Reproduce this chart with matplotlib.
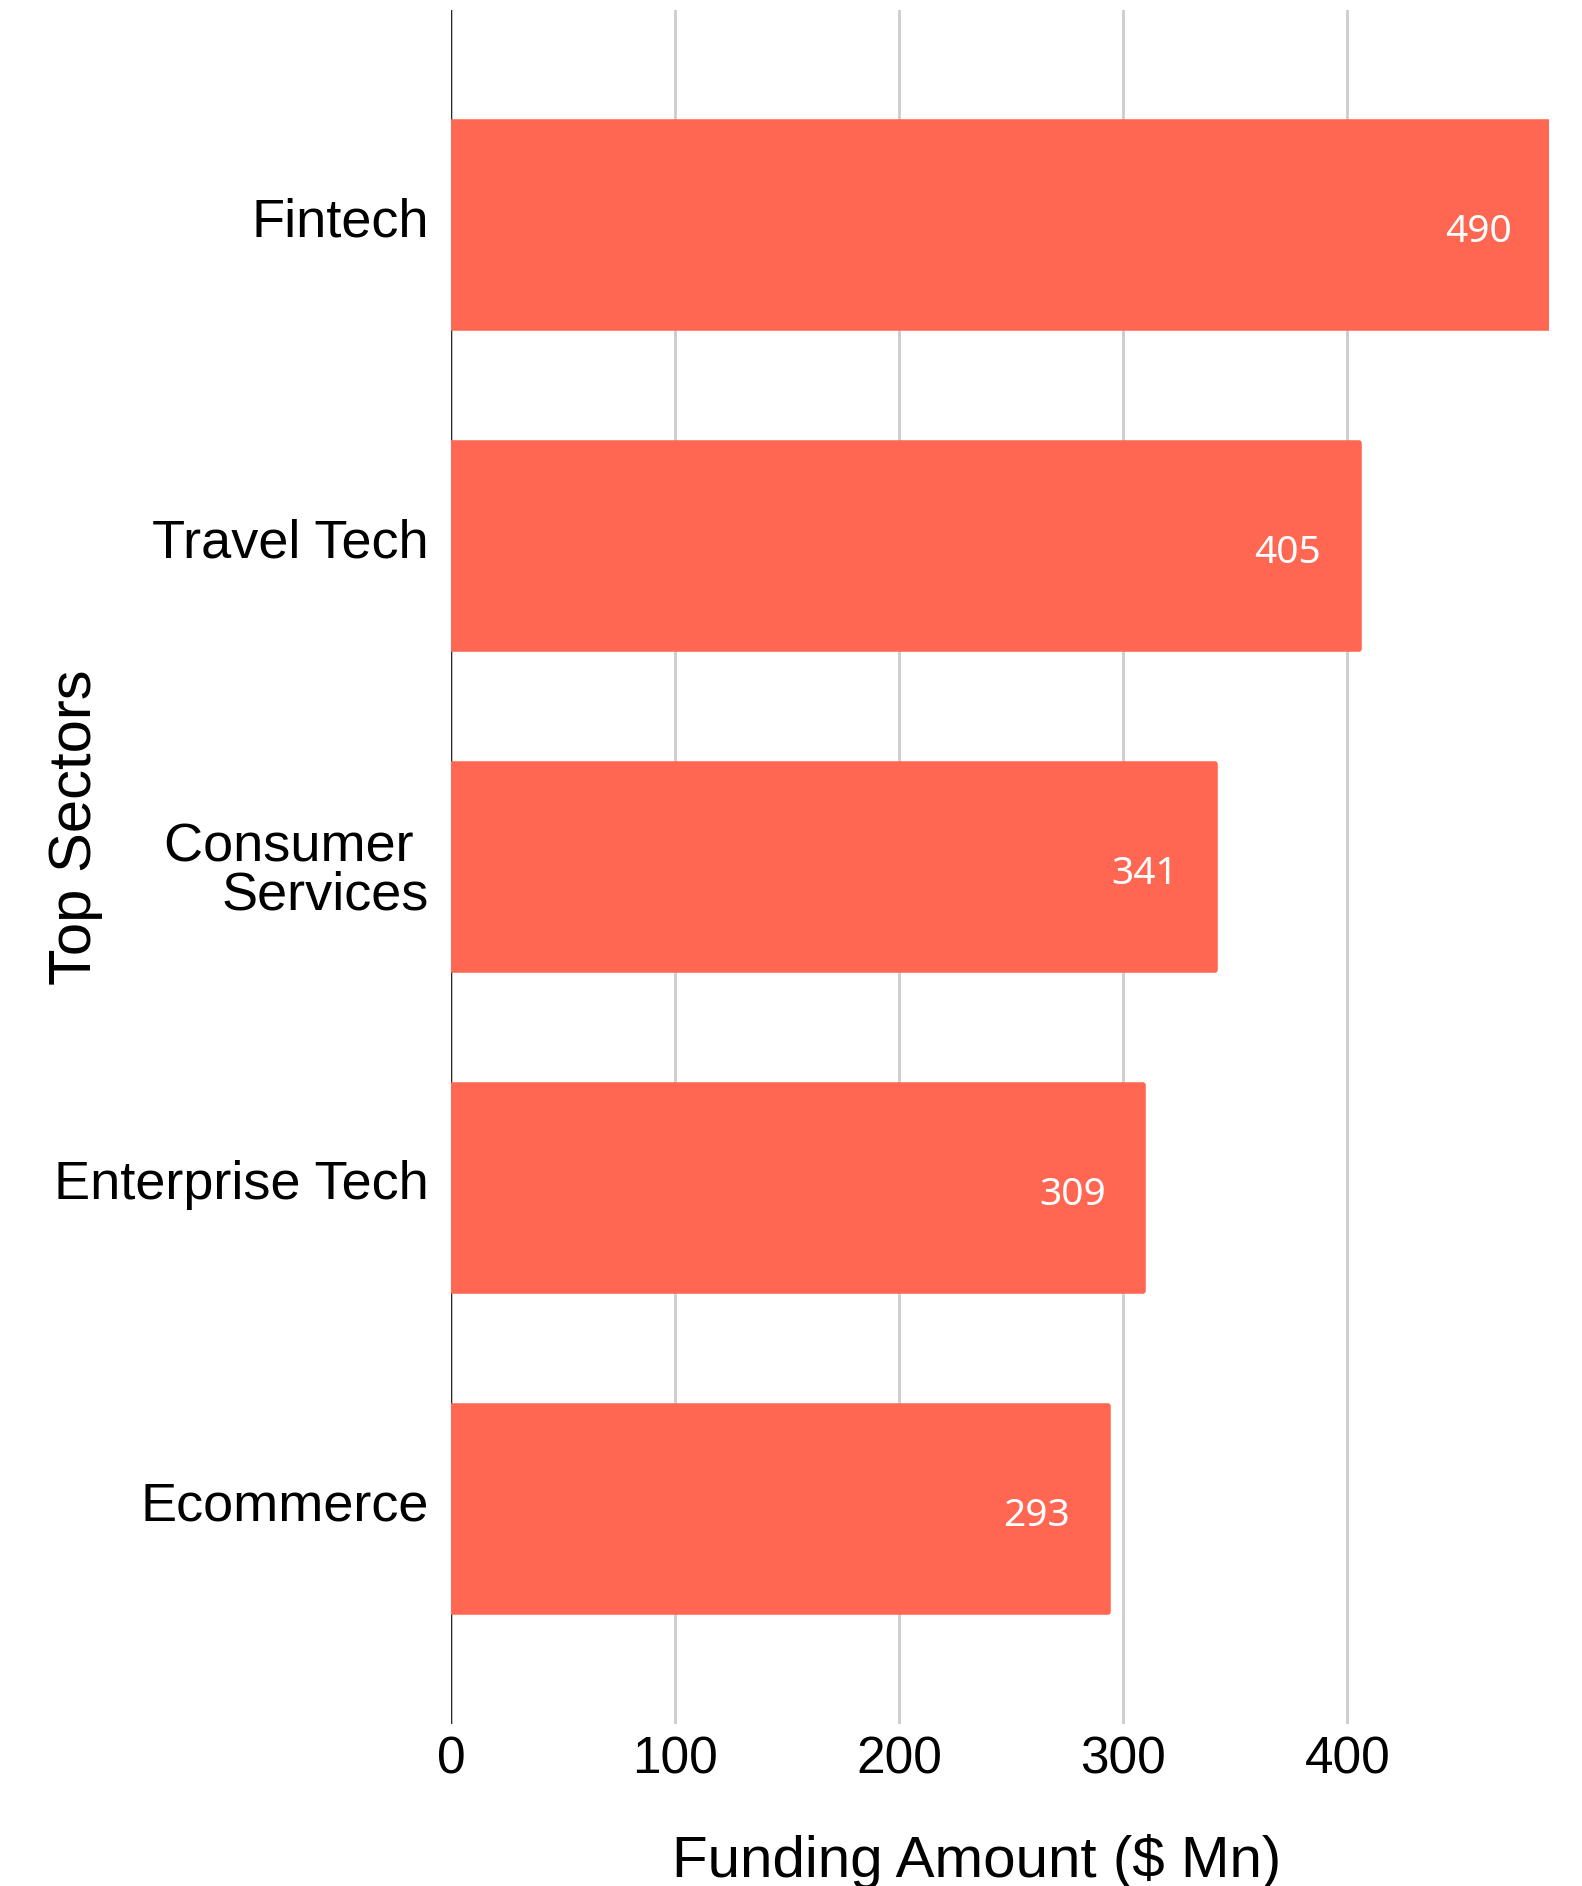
import matplotlib.pyplot as plt
from matplotlib.transforms import ScaledTranslation

# data
sectors = ['Fintech', 'Travel Tech', 'Consumer \nServices', 'Enterprise Tech', 'Ecommerce']
funding = [490, 405, 341, 309, 293]
xticks = [0, 100, 200, 300, 400]

W, H, DPI = 1582, 1886, 100
bar_color = '#FF6753'
main_font = 'Liberation Sans'

fig = plt.figure(figsize=(W / DPI, H / DPI), dpi=DPI)
fig.patch.set_facecolor('white')

# axes placed in pixel terms
left, right, top, bottom = 451, 1549, 10, 1724
ax = fig.add_axes([left / W, 1 - bottom / H, (right - left) / W, (bottom - top) / H])

y = list(range(len(sectors)))
ax.barh(y, funding, height=0.64, color=bar_color, edgecolor=bar_color,
        linewidth=4, joinstyle='round', zorder=3)

for yi, v in zip(y, funding):
    ax.annotate(str(v), xy=(v, yi), xytext=(-27, -5), textcoords='offset points',
                ha='right', va='center', color='white', fontsize=28,
                family='Noto Sans', zorder=4)

ax.set_ylim(4.67, -0.67)
ax.set_xlim(0, 490)

ax.set_xticks(xticks)
ax.set_xticklabels([str(t) for t in xticks], family=main_font, fontsize=37)
ax.set_yticks(y)
ax.set_yticklabels(sectors, family=main_font, fontsize=39, linespacing=0.95)
ax.tick_params(axis='both', length=0)
ax.tick_params(axis='x', pad=8)
ax.tick_params(axis='y', pad=16)

# nudge single-line category labels up a little
shift = ScaledTranslation(0, 6 / 72, fig.dpi_scale_trans)
for lbl in ax.get_yticklabels():
    if '\n' not in lbl.get_text():
        lbl.set_transform(lbl.get_transform() + shift)

ax.grid(axis='x', color='#cccccc', linewidth=2, zorder=0)
ax.set_axisbelow(True)
ax.axvline(0, color='#2a2a2a', linewidth=1.6, zorder=1)
for s in ax.spines.values():
    s.set_visible(False)

fig.text(977 / W, 1 - 1877 / H, 'Funding Amount ($ Mn)', ha='center', va='baseline',
         family=main_font, fontsize=42)
fig.text(76 / W, 1 - 827 / H, 'Top Sectors', ha='center', va='center', rotation=90,
         family=main_font, fontsize=43)

fig.savefig('out.png', dpi=DPI, facecolor='white')
